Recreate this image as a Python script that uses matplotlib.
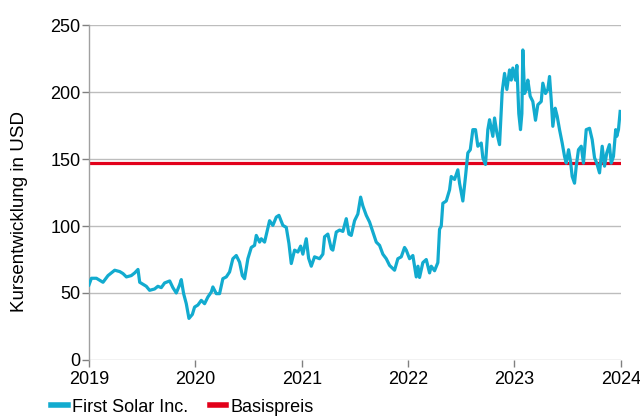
import matplotlib
matplotlib.use("Agg")
import matplotlib.pyplot as plt
from matplotlib.lines import Line2D

# decimal years and price (USD)
years = [
    2019.000, 2019.023, 2019.070, 2019.132, 2019.179, 2019.242, 2019.289, 2019.320, 2019.352, 2019.398,
    2019.430, 2019.461, 2019.477, 2019.539, 2019.570, 2019.617, 2019.648, 2019.680, 2019.711, 2019.759,
    2019.789, 2019.821, 2019.852, 2019.868, 2019.890, 2019.915, 2019.940, 2019.972, 2019.993, 2020.024,
    2020.056, 2020.087, 2020.118, 2020.150, 2020.165, 2020.197, 2020.228, 2020.259, 2020.291, 2020.322,
    2020.353, 2020.385, 2020.416, 2020.442, 2020.463, 2020.494, 2020.526, 2020.557, 2020.573, 2020.604,
    2020.620, 2020.651, 2020.698, 2020.729, 2020.761, 2020.786, 2020.823, 2020.855, 2020.880, 2020.902,
    2020.933, 2020.964, 2020.990, 2021.011, 2021.043, 2021.065, 2021.090, 2021.121, 2021.168, 2021.199,
    2021.215, 2021.246, 2021.278, 2021.293, 2021.325, 2021.356, 2021.387, 2021.419, 2021.444, 2021.466,
    2021.497, 2021.528, 2021.554, 2021.575, 2021.607, 2021.638, 2021.669, 2021.701, 2021.732, 2021.763,
    2021.795, 2021.826, 2021.873, 2021.904, 2021.936, 2021.967, 2021.983, 2022.014, 2022.045, 2022.077,
    2022.093, 2022.108, 2022.139, 2022.171, 2022.202, 2022.218, 2022.249, 2022.280, 2022.296, 2022.312,
    2022.327, 2022.359, 2022.390, 2022.406, 2022.437, 2022.468, 2022.484, 2022.515, 2022.540, 2022.562,
    2022.585, 2022.609, 2022.634, 2022.656, 2022.688, 2022.703, 2022.728, 2022.750, 2022.766, 2022.797,
    2022.813, 2022.835, 2022.860, 2022.885, 2022.907, 2022.929, 2022.954, 2022.970, 2022.985, 2023.010,
    2023.023, 2023.041, 2023.057, 2023.070, 2023.079, 2023.095, 2023.111, 2023.126, 2023.148, 2023.173,
    2023.198, 2023.220, 2023.252, 2023.267, 2023.292, 2023.314, 2023.330, 2023.346, 2023.361, 2023.383,
    2023.402, 2023.424, 2023.449, 2023.471, 2023.487, 2023.509, 2023.527, 2023.543, 2023.565, 2023.581,
    2023.602, 2023.628, 2023.649, 2023.675, 2023.706, 2023.731, 2023.753, 2023.774, 2023.800, 2023.825,
    2023.847, 2023.868, 2023.893, 2023.910, 2023.931, 2023.952, 2023.962, 2023.978, 2023.994,
]
price = [
    56, 61, 61, 58, 63, 67, 66, 64.5, 62, 63,
    65, 67.6, 58, 55, 52, 53, 55, 54, 57.5, 59,
    54, 50, 56, 60, 49.5, 42, 31, 34, 39.5, 41,
    44.5, 42, 47, 50.7, 54.5, 49.5, 49.5, 60.7, 62, 65.7,
    75.6, 78, 73, 63, 60.7, 75.6, 84, 85.6, 93, 88,
    90.5, 88, 104, 100.5, 106.7, 108, 100.5, 99, 87, 72,
    82, 80.6, 85, 79, 90.5, 76, 70, 77, 75.6, 79,
    92, 94, 83, 82, 95.5, 97, 96, 105.5, 94, 93,
    104, 109, 121.6, 115, 108, 103, 95.5, 88, 85.6, 79,
    75.6, 70.6, 67, 75.6, 77, 84, 82, 75.6, 78, 62,
    70, 61.6, 72.7, 75, 65, 70, 66.6, 72.7, 97.6, 100,
    117, 118.7, 127, 137, 134.8, 142, 132, 118.7, 137, 154.6,
    157, 172, 172, 159.6, 162, 151, 146, 172, 179.4, 167,
    180.7, 169.5, 160.8, 200.5, 214, 202, 216.6, 209, 218, 209,
    220, 184, 172, 184, 231.5, 199, 202, 209, 197, 193,
    179, 190.6, 193, 206.7, 199, 202, 211.7, 194, 174.5, 188,
    182, 172, 162, 152, 147, 157, 148.4, 137, 132, 144.7,
    157, 159.6, 147, 172, 173, 164.5, 151, 147, 139.7, 159.6,
    144.7, 154.6, 160.8, 147, 152, 172, 167, 172, 185.6,
]
strike = 147
year_ticks = [2019, 2020, 2021, 2022, 2023, 2024]
y_ticks = [0, 50, 100, 150, 200, 250]
series_name = "First Solar Inc."
strike_name = "Basispreis"
ylabel = "Kursentwicklung in USD"

cyan = "#12ABCF"
red = "#E2001A"
grid = "#BDBDBD"

plt.rcParams['font.family'] = ['Liberation Sans', 'DejaVu Sans']

fig = plt.figure(figsize=(6.4, 4.2), dpi=100)
ax = fig.add_axes([0.139, 0.143, 0.831, 0.797])

for y in y_ticks:
    ax.axhline(y, color=grid, lw=1.0, zorder=0)
ax.axhline(strike, color=red, lw=2.3, zorder=2)
ax.plot(years, price, color=cyan, lw=2.3, zorder=3, solid_joinstyle='round')

ax.set_xlim(2019, 2024)
ax.set_ylim(0, 250)
ax.set_xticks(year_ticks)
ax.set_xticklabels([str(y) for y in year_ticks])
ax.set_yticks(y_ticks)
for s in ['top', 'right', 'bottom']:
    ax.spines[s].set_visible(False)
ax.spines['left'].set_color("#A0A0A0")
ax.spines['left'].set_linewidth(1.0)
ax.tick_params(axis='both', colors="#808080", labelcolor="black", labelsize=13, length=5, width=1)
ax.tick_params(axis='x', pad=3)
ax.tick_params(axis='y', pad=1)
fig.text(20 / 640, 1 - 212 / 420, ylabel, rotation=90, ha='center', va='center', fontsize=13.5)

handles = [Line2D([], [], color=cyan, lw=4), Line2D([], [], color=red, lw=4)]
fig.legend(handles, [series_name, strike_name], loc='lower left', bbox_to_anchor=(0.055, -0.028),
           ncol=2, frameon=False, handlelength=0.9, handletextpad=0.25, columnspacing=1.2,
           prop={'size': 13})

fig.savefig("out.png", dpi=100)
